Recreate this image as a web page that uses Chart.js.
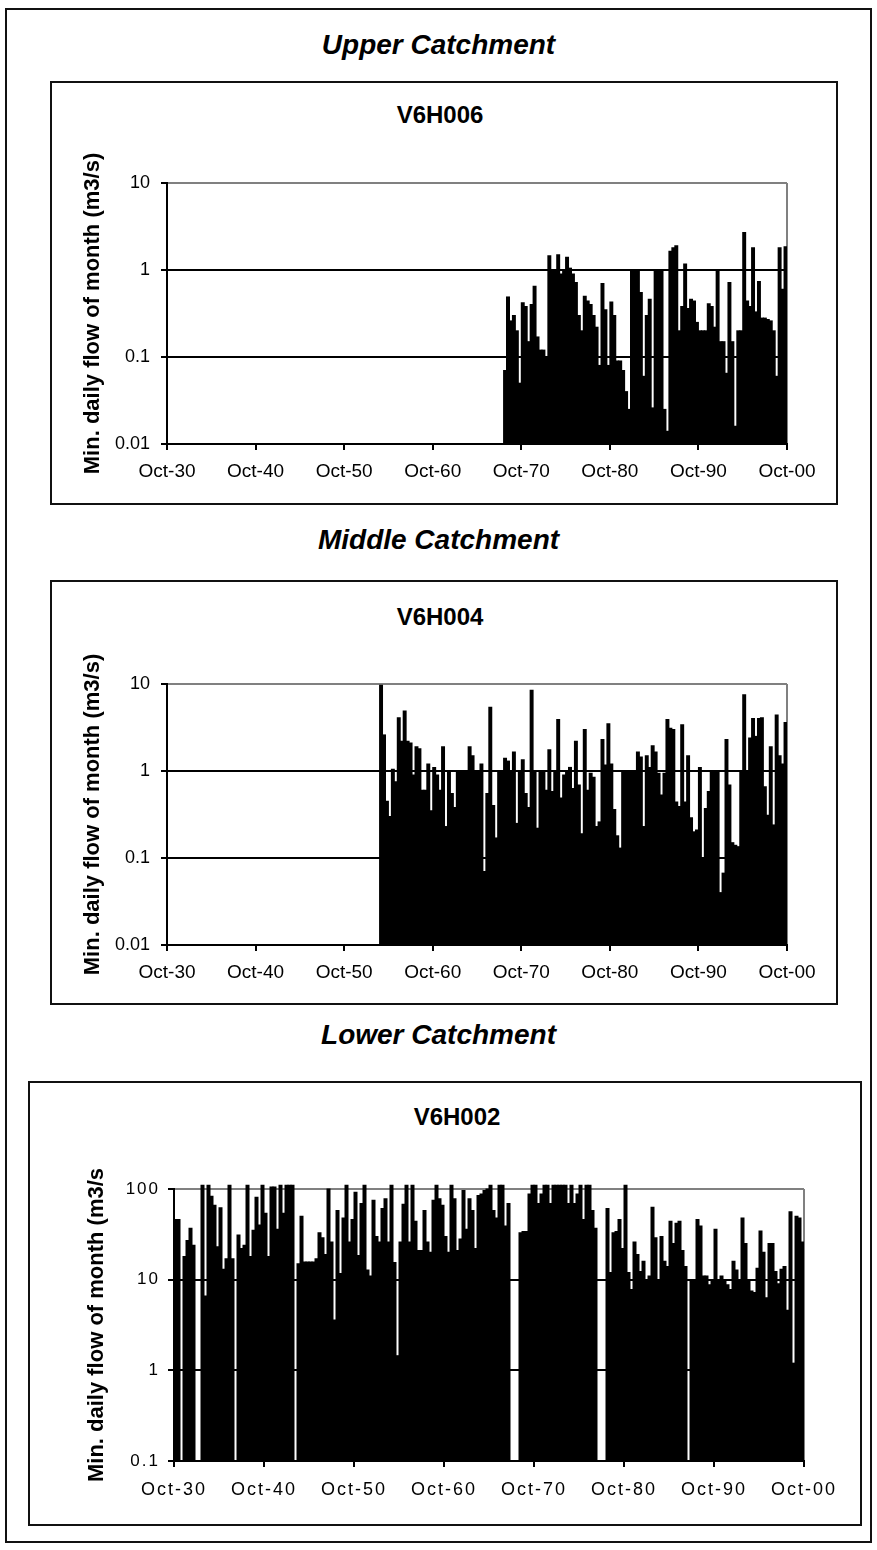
<!DOCTYPE html>
<html>
<head>
<meta charset="utf-8">
<script src="https://cdn.jsdelivr.net/npm/chart.js@4.4.0/dist/chart.umd.min.js"></script>
<style>
  html, body { margin: 0; padding: 0; background: #fff; }
  body { width: 877px; height: 1550px; position: relative; overflow: hidden; font-family: "Liberation Sans", Arial, sans-serif; }
  .frame   { position: absolute; left: 5px; top: 8px; width: 867px; height: 1535px; border: 2px solid #111; box-sizing: border-box; }
  .box     { position: absolute; border: 2px solid #111; box-sizing: border-box; }
  .region  { position: absolute; left: 0; width: 877px; text-align: center; font: italic bold 28px/28px "Liberation Sans", Arial, sans-serif; }
  .station { position: absolute; width: 200px; text-align: center; font: bold 24px/24px "Liberation Sans", Arial, sans-serif; }
  canvas   { position: absolute; }
</style>
</head>
<body>
<div class="frame"></div>

<div class="region" style="top:31px">Upper Catchment</div>
<div class="box" style="left:50px;top:81px;width:788px;height:424px"></div>
<div class="station" style="left:340px;top:103px">V6H006</div>
<canvas id="upper" width="788" height="424" style="left:50px;top:81px"></canvas>

<div class="region" style="top:526px">Middle Catchment</div>
<div class="box" style="left:50px;top:580px;width:788px;height:425px"></div>
<div class="station" style="left:340px;top:605px">V6H004</div>
<canvas id="middle" width="788" height="425" style="left:50px;top:580px"></canvas>

<div class="region" style="top:1021px">Lower Catchment</div>
<div class="box" style="left:28px;top:1081px;width:834px;height:445px"></div>
<div class="station" style="left:357px;top:1105px">V6H002</div>
<canvas id="lower" width="834" height="445" style="left:28px;top:1081px"></canvas>

<script>
// one reading every four months, x in decimal years (Oct = .75)
const STEP = 1 / 3

const X_TICKS       = [1930.75, 1940.75, 1950.75, 1960.75, 1970.75, 1980.75, 1990.75, 2000.75]
const X_TICK_LABELS = ["Oct-30", "Oct-40", "Oct-50", "Oct-60", "Oct-70", "Oct-80", "Oct-90", "Oct-00"]

const SMALL_TICKS       = [0.01, 0.1, 1, 10]
const SMALL_TICK_LABELS = ["0.01", "0.1", "1", "10"]
const LARGE_TICKS       = [0.1, 1, 10, 100]
const LARGE_TICK_LABELS = ["0.1", "1", "10", "100"]

// V6H006 - upper catchment, record starts Oct-68
const V6H006_START = 1968.75
const V6H006_FLOW = [
  0.07, 0.49, 0.26, 0.30, 0.2, 0.05, 0.42, 0.38, 0.15, 0.40,
  0.65, 0.17, 0.12, 0.12, 0.1, 1.46, 1.0, 1.0, 1.5, 0.9,
  1.0, 1.4, 1.05, 0.9, 0.72, 0.3, 0.2, 0.5, 0.44, 0.4,
  0.3, 0.22, 0.08, 0.7, 0.35, 0.08, 0.43, 0.3, 0.09, 0.09,
  0.07, 0.04, 0.025, 1.0, 1.0, 1.0, 0.55, 0.06, 0.3, 0.46,
  0.026, 1.0, 1.0, 1.0, 0.025, 0.014, 1.64, 1.8, 1.9, 0.2,
  0.38, 1.17, 0.36, 0.46, 0.44, 0.25, 0.2, 0.2, 0.2, 0.41,
  0.38, 0.22, 1.0, 0.15, 0.15, 0.065, 0.72, 0.15, 0.016, 0.2,
  0.2, 2.7, 0.44, 0.38, 1.8, 0.33, 0.74, 0.28, 0.28, 0.27,
  0.26, 0.2, 0.06, 1.8, 0.6, 1.85,
]

// V6H004 - middle catchment, record starts Oct-54
const V6H004_START = 1954.75
const V6H004_FLOW = [
  9.7, 2.6, 0.45, 0.3, 1.05, 0.75, 4.1, 2.2, 4.9, 2.2,
  2.1, 0.9, 1.9, 1.8, 0.6, 0.6, 1.2, 0.35, 1.1, 0.9,
  0.6, 1.9, 0.23, 1.0, 0.55, 0.38, 1.0, 1.0, 1.0, 1.0,
  1.9, 1.5, 1.0, 1.0, 1.2, 0.07, 0.55, 5.4, 0.4, 0.17,
  1.0, 1.0, 1.4, 1.3, 1.0, 1.65, 0.25, 1.0, 1.35, 0.55,
  0.38, 8.5, 1.0, 0.22, 1.0, 1.0, 0.6, 1.75, 0.58, 1.0,
  3.9, 0.49, 0.9, 1.0, 1.1, 0.63, 2.2, 0.69, 0.19, 3.0,
  0.6, 0.94, 0.85, 0.23, 0.26, 2.3, 1.17, 3.5, 1.2, 0.36,
  0.18, 0.13, 1.0, 1.0, 1.0, 1.0, 1.0, 1.65, 1.45, 0.23,
  1.5, 1.1, 1.95, 1.65, 0.94, 0.53, 0.94, 3.9, 3.1, 3.0,
  0.44, 0.39, 3.4, 0.44, 1.5, 0.29, 0.2, 0.21, 1.1, 0.1,
  0.37, 0.58, 1.0, 1.0, 1.0, 0.04, 0.067, 2.3, 0.69, 0.15,
  0.14, 0.135, 1.0, 7.5, 1.0, 2.4, 4.0, 2.5, 4.0, 4.1,
  0.66, 0.31, 1.9, 0.24, 4.4, 1.5, 1.2, 3.6,
]

// V6H002 - lower catchment, full record from Oct-30 (0.1 = no flow shown)
const V6H002_START = 1930.75
const V6H002_FLOW = [
  46, 46, 0.1, 18, 27, 37, 24, 0.1, 0.1, 110,
  6.6, 110, 83, 66, 23, 62, 13, 17, 110, 17,
  0.1, 31, 22, 24, 110, 18, 35, 81, 40, 110,
  54, 18, 105, 105, 36, 110, 54, 110, 110, 110,
  0.1, 15, 50, 15.7, 15.7, 15.7, 15.7, 17, 33, 29,
  19, 100, 26, 3.6, 58, 11.7, 48, 110, 26, 46,
  92, 18.5, 69, 110, 12.8, 11, 75, 30, 26, 61,
  78, 26, 110, 15.5, 1.45, 26, 68, 110, 26, 110,
  44, 21, 21, 58, 26, 20, 75, 110, 78, 66,
  30, 20, 110, 78, 21, 28, 96, 36, 78, 58,
  22, 85, 88, 96, 100, 110, 58, 48, 110, 110,
  39, 69, 0.1, 0.1, 0.1, 33, 34, 34, 88, 110,
  110, 69, 88, 110, 110, 69, 110, 110, 110, 110,
  110, 69, 110, 69, 88, 110, 46, 110, 110, 58,
  37, 0.1, 0.1, 0.1, 61, 12, 33, 34, 46, 22,
  110, 12, 7.8, 26, 19, 12.3, 16, 9.6, 11, 63,
  29, 10, 30, 16, 14, 44, 25, 42, 44, 21,
  14, 0.1, 9.6, 10, 46, 39, 11, 11, 8.8, 10,
  36, 10, 11, 10, 8.8, 7.8, 16, 12.8, 10, 48,
  25, 10, 7.5, 7.2, 13.4, 34.5, 20, 6.3, 25, 25,
  12.3, 9, 13, 14, 4.6, 56, 1.2, 50, 48, 26,
]

const FONT      = "'Liberation Sans', Arial, sans-serif"
const GRID_GRAY = "#808080"

// tick labels of the lower panel are drawn a bit wider, like the original
const letterSpacing = {
  id: "letterSpacing",
  beforeDraw:        chart => { chart.ctx.letterSpacing = "0px" },
  afterDatasetsDraw: (chart, args, opts) => { chart.ctx.letterSpacing = opts.spacing || "0px" },
  afterDraw:         chart => { chart.ctx.letterSpacing = "0px" },
}

function drawPanel(p) {
  const xMin = X_TICKS[0]
  const xMax = X_TICKS[X_TICKS.length - 1]
  const yMin = p.yTicks[0]
  const yMax = p.yTicks[p.yTicks.length - 1]

  return new Chart(document.getElementById(p.id), {
    type: "bar",
    data: {
      datasets: [{
        data:               p.flows.map((y, i) => ({ x: p.start + (i + 0.5) * STEP, y })),
        backgroundColor:    "#000",
        borderWidth:        0,
        barPercentage:      1,
        categoryPercentage: 1,
        inflateAmount:      0.5,
        clip:               { left: 0, top: 6, right: 0, bottom: 0 },
      }],
    },
    plugins: [letterSpacing],
    options: {
      responsive: false,
      animation:  false,
      events:     [],
      layout:     { padding: p.padding },
      plugins: {
        legend:        { display: false },
        tooltip:       { enabled: false },
        letterSpacing: { spacing: p.spacing },
      },
      scales: {
        x: {
          type: "linear", min: xMin, max: xMax, offset: false,
          afterBuildTicks: s => { s.ticks = X_TICKS.map(value => ({ value })) },
          afterFit:        s => { s.height = 40 },
          ticks:  { autoSkip: false, maxRotation: 0, color: "#000", padding: p.xPad, z: 1,
                    font: { family: FONT, size: p.xSize },
                    callback: (v, i) => X_TICK_LABELS[i] },
          grid:   { offset: false, tickColor: "#000", tickLength: 6, tickWidth: 2, lineWidth: 2,
                    color: c => (c.tick && c.tick.value === xMax) ? GRID_GRAY : "rgba(0,0,0,0)" },
          border: { color: "#000", width: 2 },
        },
        y: {
          type: "logarithmic", min: yMin, max: yMax,
          afterBuildTicks: s => { s.ticks = p.yTicks.map(value => ({ value })) },
          afterFit:        s => { s.width = p.axisWidth },
          ticks:  { color: "#000", padding: p.yPad, z: 1,
                    font: { family: FONT, size: p.ySize },
                    callback: (v, i) => p.yLabels[i] },
          grid:   { tickColor: "#000", tickLength: 6, tickWidth: 2, lineWidth: 2,
                    color: c => (c.tick && c.tick.value === yMax) ? GRID_GRAY : "#000" },
          border: { color: "#000", width: 2 },
          title:  { display: true, text: p.title, color: "#000", padding: 0,
                    font: { family: FONT, size: 22, weight: "bold" } },
        },
      },
    },
  })
}

drawPanel({
  id: "upper", start: V6H006_START, flows: V6H006_FLOW,
  yTicks: SMALL_TICKS, yLabels: SMALL_TICK_LABELS,
  title: "Min. daily flow of month (m3/s)",
  padding: { left: 30, top: 102, right: 51, bottom: 21 },
  axisWidth: 87, xSize: 19, ySize: 18, xPad: 10, yPad: 11, spacing: "0px",
})

drawPanel({
  id: "middle", start: V6H004_START, flows: V6H004_FLOW,
  yTicks: SMALL_TICKS, yLabels: SMALL_TICK_LABELS,
  title: "Min. daily flow of month (m3/s)",
  padding: { left: 30, top: 104, right: 51, bottom: 20 },
  axisWidth: 87, xSize: 19, ySize: 18, xPad: 10, yPad: 11, spacing: "0px",
})

drawPanel({
  id: "lower", start: V6H002_START, flows: V6H002_FLOW,
  yTicks: LARGE_TICKS, yLabels: LARGE_TICK_LABELS,
  title: "Min. daily flow of month (m3/s",
  padding: { left: 56, top: 108, right: 58, bottom: 25 },
  axisWidth: 90, xSize: 18, ySize: 17, xPad: 12, yPad: 8, spacing: "2px",
})
</script>
</body>
</html>
